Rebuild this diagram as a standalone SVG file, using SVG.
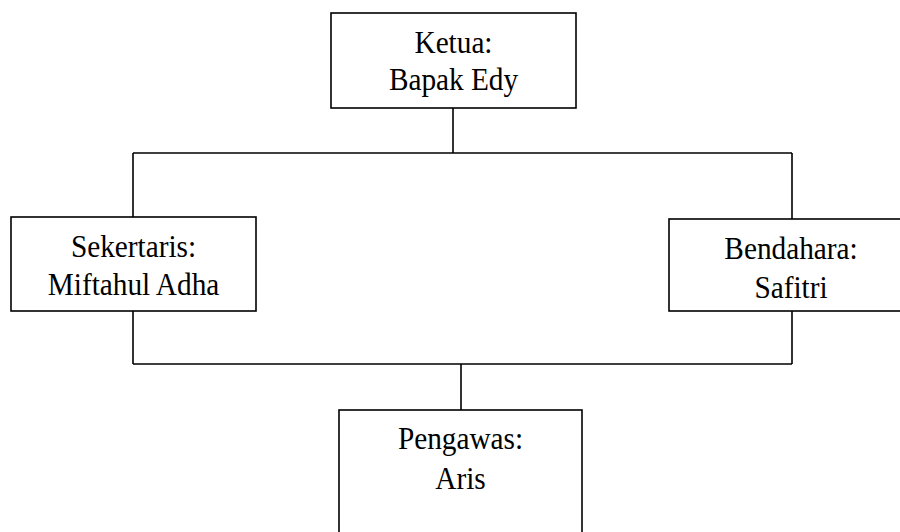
<svg xmlns="http://www.w3.org/2000/svg" width="900" height="532" viewBox="0 0 900 532">
<style>
.box{fill:#fff;stroke:#000;stroke-width:1.6}
.ln{fill:none;stroke:#000;stroke-width:1.6}
text{font-family:"Liberation Serif","Times New Roman",serif;font-size:32px;fill:#000;text-anchor:middle}
</style>
<rect width="900" height="532" fill="#fff"/>
<g id="connectors">
<path class="ln" d="M453 108 V153 M133 153 H792 M133 153 V217 M792 153 V219 M133 311 V364 M792 311 V364 M133 364 H792 M461 364 V410"/>
</g>
<g id="ketua">
<rect class="box" x="331" y="13" width="245" height="95"/>
<text transform="translate(453.5 53) scale(0.915 1)">Ketua:</text>
<text transform="translate(453.5 90) scale(0.915 1)">Bapak Edy</text>
</g>
<g id="sekertaris">
<rect class="box" x="11" y="217" width="245" height="94"/>
<text transform="translate(133.5 257) scale(0.915 1)">Sekertaris:</text>
<text transform="translate(133.5 295) scale(0.915 1)">Miftahul Adha</text>
</g>
<g id="bendahara">
<rect class="box" x="669" y="219" width="245" height="92"/>
<text transform="translate(791 259) scale(0.915 1)">Bendahara:</text>
<text transform="translate(791 298) scale(0.915 1)">Safitri</text>
</g>
<g id="pengawas">
<rect class="box" x="339" y="410" width="243" height="140"/>
<text transform="translate(460.5 449) scale(0.915 1)">Pengawas:</text>
<text transform="translate(460.5 489) scale(0.915 1)">Aris</text>
</g>
</svg>
